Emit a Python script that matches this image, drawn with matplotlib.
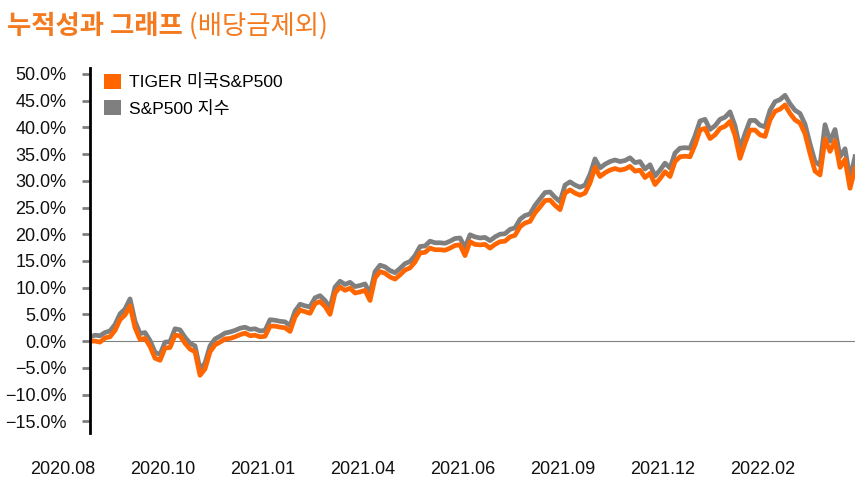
import matplotlib
matplotlib.use("Agg")
import matplotlib.pyplot as plt
import matplotlib.transforms as mtransforms
from matplotlib.patches import Patch
import numpy as np

# cumulative return (%), one value per ~equal time step, Aug 2020 -> Apr 2022
tiger = [0.0, 0.0, -0.2, 0.6, 0.8, 2.0, 4.0, 4.9, 6.6, 2.5,
         0.3, 0.5, -1.0, -3.2, -3.6, -1.3, -1.2, 1.1, 1.0, -0.4,
         -1.5, -2.0, -6.4, -5.2, -2.0, -0.7, -0.2, 0.4, 0.5, 0.8,
         1.2, 1.5, 1.0, 1.1, 0.8, 0.9, 2.8, 2.8, 2.6, 2.5,
         1.8, 4.5, 5.8, 5.5, 5.2, 7.0, 7.4, 6.5, 5.0, 9.0,
         10.1, 9.5, 9.9, 9.0, 9.2, 9.5, 7.6, 11.8, 13.0, 12.7,
         12.0, 11.6, 12.4, 13.3, 13.7, 14.8, 16.5, 16.6, 17.4, 17.1,
         17.1, 17.0, 17.4, 17.9, 18.0, 16.0, 18.6, 18.1, 18.0, 18.1,
         17.4, 18.1, 18.6, 18.7, 19.5, 19.8, 21.4, 22.1, 22.4, 24.0,
         25.1, 26.3, 26.4, 25.4, 24.6, 27.7, 28.3, 27.7, 27.3, 27.7,
         29.6, 32.5, 30.8, 31.5, 32.0, 32.3, 32.0, 32.2, 32.7, 31.8,
         32.0, 30.6, 31.4, 29.3, 30.4, 31.7, 30.8, 33.6, 34.5, 34.6,
         34.5, 36.7, 39.5, 39.8, 37.9, 38.6, 39.8, 40.2, 41.1, 38.5,
         34.2, 37.0, 39.5, 39.5, 38.6, 38.3, 41.4, 43.0, 43.4, 44.2,
         42.6, 41.4, 40.8, 38.8, 35.1, 31.8, 31.1, 37.8, 35.5, 37.5,
         32.5, 34.0, 28.6, 32.3]

sp500 = [0.8, 1.1, 1.0, 1.6, 1.9, 3.1, 5.1, 6.0, 7.9, 3.7,
         1.4, 1.6, 0.1, -2.1, -2.5, -0.2, -0.1, 2.3, 2.1, 0.7,
         -0.4, -0.9, -5.3, -4.1, -0.9, 0.4, 0.9, 1.5, 1.7, 2.0,
         2.4, 2.6, 2.2, 2.3, 1.9, 2.0, 4.0, 3.9, 3.7, 3.6,
         2.9, 5.6, 6.9, 6.6, 6.4, 8.1, 8.5, 7.6, 6.2, 10.1,
         11.2, 10.6, 11.0, 10.2, 10.4, 10.7, 8.9, 13.0, 14.2, 13.9,
         13.2, 12.8, 13.6, 14.5, 14.9, 16.0, 17.7, 17.8, 18.7, 18.4,
         18.4, 18.3, 18.7, 19.2, 19.3, 17.5, 19.9, 19.5, 19.3, 19.4,
         18.8, 19.5, 20.0, 20.1, 20.9, 21.2, 22.8, 23.5, 23.8, 25.4,
         26.6, 27.8, 27.9, 26.9, 26.1, 29.2, 29.8, 29.2, 28.8, 29.2,
         31.2, 34.1, 32.4, 33.1, 33.6, 33.9, 33.6, 33.8, 34.3, 33.4,
         33.6, 32.2, 33.0, 30.9, 32.0, 33.3, 32.4, 35.2, 36.1, 36.2,
         36.1, 38.4, 41.2, 41.5, 39.6, 40.3, 41.5, 41.9, 42.9, 40.3,
         36.0, 38.8, 41.3, 41.3, 40.4, 40.1, 43.2, 44.8, 45.2, 46.0,
         44.4, 43.2, 42.6, 40.6, 36.9, 33.6, 32.9, 40.5, 37.4, 39.6,
         34.5, 36.0, 30.4, 34.5]

date_labels = ['2020.08', '2020.10', '2021.01', '2021.04',
               '2021.06', '2021.09', '2021.12', '2022.02']
label_step = 20

series_names = ['TIGER 미국S&P500', 'S&P500 지수']
orange = '#FF6600'
grey = '#7F7F7F'

num_font = ['Liberation Sans', 'Noto Sans CJK KR']
kr_font = ['Noto Sans CJK KR', 'DejaVu Sans']

fig = plt.figure(figsize=(8.64, 4.84), dpi=100)
ax = fig.add_axes([0.1042, 0.1054, 0.8854, 0.754])

x = np.arange(len(tiger))
ax.plot(x, sp500, color=grey, lw=3.4, solid_joinstyle='round')
ax.plot(x, tiger, color=orange, lw=3.4, solid_joinstyle='round')
ax.axhline(0, color='#808080', lw=0.8, zorder=0)

ax.set_xlim(0, len(tiger) - 1)
ax.set_ylim(-17.2, 51.1)

# y axis
yt = np.arange(-15, 51, 5)
ax.set_yticks(yt)
ax.set_yticklabels([('\u2212' if v < 0 else '') + '%.1f%%' % abs(v) for v in yt],
                   family=num_font, fontsize=13)
ax.tick_params(axis='y', direction='out', length=6, width=2, color='#808080',
               labelcolor='#111111', pad=11)

# x axis: labels every 20 steps, shifted a bit to the left like the original
ax.set_xticks(np.arange(len(date_labels)) * label_step)
ax.set_xticklabels(date_labels, family=num_font, fontsize=13)
ax.tick_params(axis='x', length=0, pad=20, labelcolor='#111111')
shift = mtransforms.ScaledTranslation(-27 / 100, 0, fig.dpi_scale_trans)
for lab in ax.get_xticklabels():
    lab.set_transform(lab.get_transform() + shift)

for s in ['top', 'right', 'bottom']:
    ax.spines[s].set_visible(False)
ax.spines['left'].set_color('black')
ax.spines['left'].set_linewidth(2)

handles = [Patch(facecolor=orange), Patch(facecolor=grey)]
leg = ax.legend(handles, series_names, loc='upper left',
                bbox_to_anchor=(0.018, 0.985), frameon=False,
                borderpad=0, borderaxespad=0, handlelength=1.0, handleheight=1.0,
                handletextpad=0.45, labelspacing=0.55,
                prop={'family': num_font, 'size': 12.5})

# title
t1 = fig.text(0.008, 0.945, '누적성과 그래프', color='#F47A20', fontsize=19,
              fontweight='bold', family=kr_font, va='center')
ax.annotate(' (배당금제외)', xy=(1, 0), xycoords=t1, va='bottom',
            color='#F47A20', fontsize=19, family=kr_font,
            annotation_clip=False)

fig.savefig('out.png', dpi=100)
